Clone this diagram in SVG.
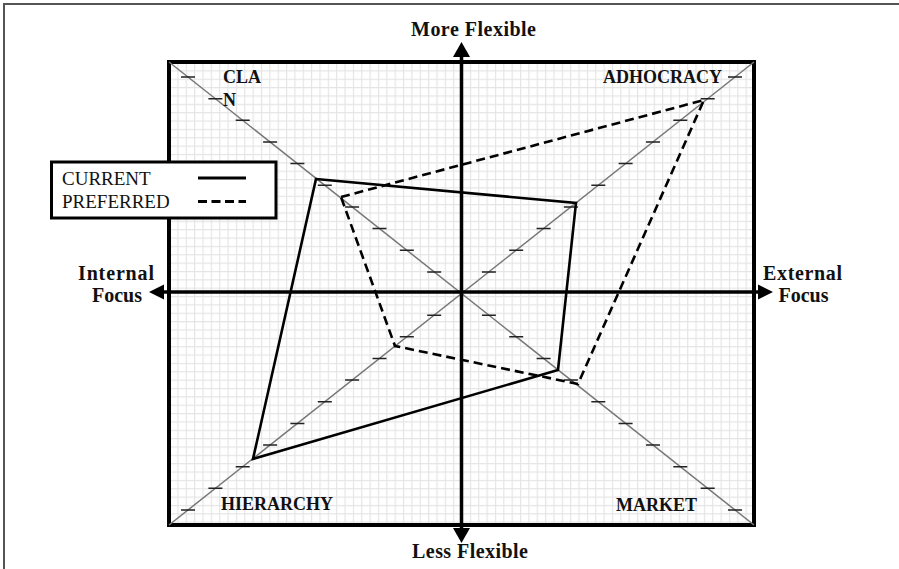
<svg xmlns="http://www.w3.org/2000/svg" width="899" height="569" viewBox="0 0 899 569">
<defs>
<pattern id="grid" x="169" y="62" width="8.357" height="8.357" patternUnits="userSpaceOnUse">
<path d="M0 0.5H8.357M0.5 0V8.357" stroke="#e4e4e4" stroke-width="1.3" fill="none"/>
</pattern>
<style>
.lbl{font-family:"Liberation Serif","Times New Roman",serif;font-weight:bold;fill:#111}
.q{font-size:18px}
.ax{font-size:20px}
.leg{font-family:"Liberation Serif","Times New Roman",serif;font-size:19px;fill:#111}
.diag{stroke:#777;stroke-width:1.5;fill:none}
.tick{stroke:#222;stroke-width:1.5;fill:none}
.axis{stroke:#000;stroke-width:3.5;fill:none}
.cur{stroke:#000;stroke-width:2.6;fill:none;stroke-linejoin:miter}
.pref{stroke:#000;stroke-width:2.6;fill:none;stroke-dasharray:9 5}
</style>
</defs>
<rect width="899" height="569" fill="#fff"/>
<path d="M4 569V4H899" stroke="#555" stroke-width="2" fill="none"/>

<g id="chart-box">
<rect x="169" y="62" width="585" height="463" fill="url(#grid)" stroke="#000" stroke-width="4"/>
</g>

<g id="connectors">
<line class="diag" x1="169" y1="62" x2="754" y2="525"/>
<line class="diag" x1="169" y1="525" x2="754" y2="62"/>
<path class="tick" d="M481.9 315.2h14M509.2 336.8h14M536.6 358.4h14M563.9 380.1h14M591.3 401.7h14M618.6 423.4h14M646 445h14M673.3 466.7h14M700.7 488.3h14M728 510h14
M481.9 271.9h14M509.2 250.2h14M536.6 228.6h14M563.9 206.9h14M591.3 185.3h14M618.6 163.6h14M646 142h14M673.3 120.3h14M700.7 98.7h14M728 77h14
M427.2 315.2h14M399.8 336.8h14M372.5 358.4h14M345.1 380.1h14M317.8 401.7h14M290.4 423.4h14M263.1 445h14M235.7 466.7h14M208.4 488.3h14M181 510h14
M427.2 271.9h14M399.8 250.2h14M372.5 228.6h14M345.1 206.9h14M317.8 185.3h14M290.4 163.6h14M263.1 142h14M235.7 120.3h14M208.4 98.7h14M181 77h14"/>
<line class="axis" x1="461.5" y1="55" x2="461.5" y2="530"/>
<line class="axis" x1="162" y1="292" x2="760" y2="292"/>
<polygon points="461.5,42 453,57 470,57" fill="#000"/>
<polygon points="461.5,543 453,528 470,528" fill="#000"/>
<polygon points="149,292 164,284.5 164,299.5" fill="#000"/>
<polygon points="773,292 758,284.5 758,299.5" fill="#000"/>
<polygon id="current" class="cur" points="316,179 576,203 558,370 253,459"/>
<polygon id="preferred" class="pref" points="341,197 704,100 578,384 395,346"/>
</g>

<g id="axis-labels">
<text class="lbl ax" x="473.5" y="36" text-anchor="middle" textLength="125" lengthAdjust="spacing">More Flexible</text>
<text class="lbl ax" x="470" y="558" text-anchor="middle" textLength="116" lengthAdjust="spacing">Less Flexible</text>
<text class="lbl ax" x="116" y="280" text-anchor="middle" textLength="76" lengthAdjust="spacing">Internal</text>
<text class="lbl ax" x="117" y="302" text-anchor="middle">Focus</text>
<text class="lbl ax" x="802.5" y="280" text-anchor="middle" textLength="79" lengthAdjust="spacing">External</text>
<text class="lbl ax" x="803.5" y="302" text-anchor="middle">Focus</text>
</g>

<g id="quadrant-labels">
<text class="lbl q" x="223" y="83">CLA</text>
<text class="lbl q" x="223" y="106">N</text>
<text class="lbl q" x="722" y="83" text-anchor="end">ADHOCRACY</text>
<text class="lbl q" x="221" y="510">HIERARCHY</text>
<text class="lbl q" x="616" y="511">MARKET</text>
</g>

<g id="legend">
<rect x="51.5" y="162" width="224.5" height="56" fill="#fff" stroke="#000" stroke-width="3"/>
<text class="leg" x="62" y="185">CURRENT</text>
<text class="leg" x="62" y="208">PREFERRED</text>
<line x1="198" y1="178" x2="246" y2="178" stroke="#000" stroke-width="3"/>
<line x1="198" y1="201.5" x2="246" y2="201.5" stroke="#000" stroke-width="3" stroke-dasharray="9 4.5"/>
</g>
</svg>
